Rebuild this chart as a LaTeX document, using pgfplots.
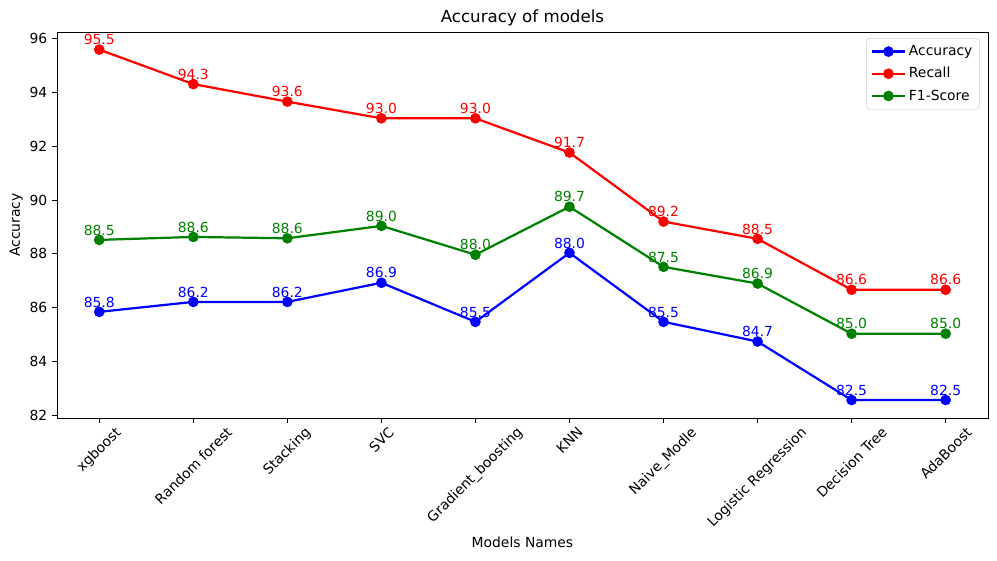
\documentclass[border=0pt]{standalone}
\usepackage{fontspec}
\setmainfont{DejaVu Sans}
\usepackage{pgfplots}
\pgfplotsset{compat=1.18}
\usepackage{graphicx}

\definecolor{mplred}{rgb}{1,0,0}
\definecolor{mplblue}{rgb}{0,0,1}
\definecolor{mplgreen}{rgb}{0,0.5,0}

\newcommand{\tl}[1]{\rotatebox{45}{#1}}

\begin{document}
\begin{tikzpicture}
\path (0,0) rectangle (717.8pt,403.2pt);
\begin{axis}[
    at={(41pt,102.2pt)}, anchor=south west,
    scale only axis,
    width=670.3pt, height=277.9pt,
    xmin=-0.45, xmax=9.45,
    ymin=81.91, ymax=96.23,
    xtick={0,...,9},
    xticklabels={\tl{xgboost},\tl{Random forest},\tl{Stacking},\tl{SVC},\tl{Gradient\_boosting},\tl{KNN},\tl{Naive\_Modle},\tl{Logistic Regression},\tl{Decision Tree},\tl{AdaBoost}},
    ytick={82,84,...,96},
    tick align=outside,
    tick pos=left,
    major tick length=3.5pt,
    tick style={black, line width=0.6pt},
    axis line style={line width=0.6pt},
    /pgf/number format/assume math mode=true,
    ticklabel style={font=\fontsize{10}{12}\selectfont},
    xticklabel style={anchor=north, inner sep=2pt},
    title={Accuracy of models},
    title style={font=\fontsize{12}{14}\selectfont, yshift=-5pt},
    xlabel={Models Names},
    ylabel={Accuracy},
    label style={font=\fontsize{10}{12}\selectfont},
    ylabel style={yshift=-2pt},
    legend style={at={(0.991,0.984)}, anchor=north east, draw=black!20,
        rounded corners=2pt, font=\fontsize{10}{12}\selectfont,
        row sep=3pt, inner sep=3pt},
    legend cell align=left,
    legend image code/.code={
        \draw[line width=1.6pt, mark repeat=2, mark phase=2] plot coordinates {(0cm,0cm) (0.42cm,0cm) (0.84cm,0cm)};
    },
    every axis plot/.append style={line width=1.6pt, mark=*, mark size=3pt,
        mark options={draw=white, line width=0.5pt}},
    nodes near coords,
    point meta=explicit symbolic,
    every node near coord/.append style={anchor=south, inner sep=0pt, yshift=2.5pt,
        font=\fontsize{10}{12}\selectfont},
]
\addplot[mplblue, mark options={fill=mplblue}, every node near coord/.append style={text=mplblue}] coordinates {
    (0,85.85) [85.8] (1,86.22) [86.2] (2,86.22) [86.2] (3,86.93) [86.9] (4,85.48) [85.5]
    (5,88.04) [88.0] (6,85.48) [85.5] (7,84.75) [84.7] (8,82.58) [82.5] (9,82.58) [82.5]
};
\addlegendentry{Accuracy}
\addplot[mplred, mark options={fill=mplred}, every node near coord/.append style={text=mplred}] coordinates {
    (0,95.58) [95.5] (1,94.30) [94.3] (2,93.65) [93.6] (3,93.03) [93.0] (4,93.03) [93.0]
    (5,91.76) [91.7] (6,89.20) [89.2] (7,88.56) [88.5] (8,86.67) [86.6] (9,86.67) [86.6]
};
\addlegendentry{Recall}
\addplot[mplgreen, mark options={fill=mplgreen}, every node near coord/.append style={text=mplgreen}] coordinates {
    (0,88.52) [88.5] (1,88.63) [88.6] (2,88.58) [88.6] (3,89.04) [89.0] (4,87.97) [88.0]
    (5,89.75) [89.7] (6,87.52) [87.5] (7,86.90) [86.9] (8,85.04) [85.0] (9,85.04) [85.0]
};
\addlegendentry{F1-Score}
\end{axis}
\end{tikzpicture}
\end{document}
